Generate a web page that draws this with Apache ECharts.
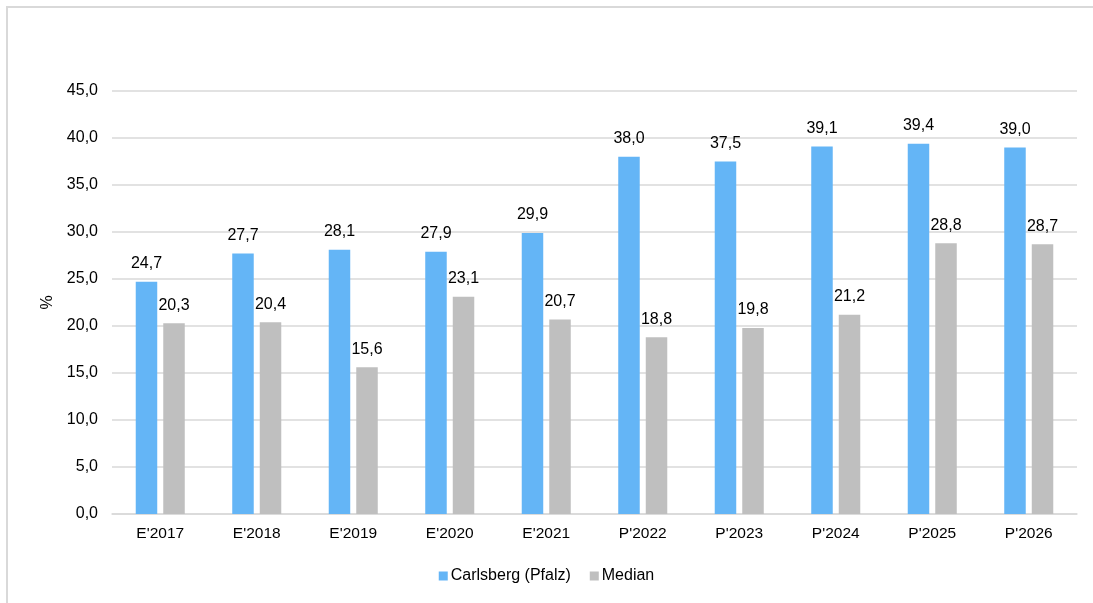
<!DOCTYPE html>
<html>
<head>
<meta charset="utf-8">
<script src="https://cdn.jsdelivr.net/npm/echarts@6/dist/echarts.min.js"></script>
<style>
html,body{margin:0;padding:0;background:#fff;}
#chart{width:1093px;height:603px;}
</style>
</head>
<body>
<div id="chart"></div>
<script>
var categories = ["E'2017","E'2018","E'2019","E'2020","E'2021","P'2022","P'2023","P'2024","P'2025","P'2026"];
var carlsberg = [24.7, 27.7, 28.1, 27.9, 29.9, 38.0, 37.5, 39.1, 39.4, 39.0];
var median = [20.3, 20.4, 15.6, 23.1, 20.7, 18.8, 19.8, 21.2, 28.8, 28.7];
var seriesNames = ["Carlsberg (Pfalz)", "Median"];
var yMin = 0, yMax = 45, yInterval = 5;

function fmt(v){ return Number(v).toFixed(1).replace('.', ','); }

var chart = echarts.init(document.getElementById('chart'));
var font = 'Liberation Sans, Arial, sans-serif';
var labelCfg = {
  show: true, position: 'top', distance: 10,
  color: '#000', fontSize: 16, fontFamily: font,
  formatter: function(p){ return fmt(p.value); }
};
chart.setOption({
  backgroundColor: '#fff',
  animation: false,
  graphic: [{
    type: 'rect',
    shape: { x: 7, y: 7, width: 1200, height: 700 },
    style: { fill: 'none', stroke: '#d9d9d9', lineWidth: 2 },
    silent: true
  }],
  grid: { left: 112, right: 16, top: 91, bottom: 89, containLabel: false },
  legend: {
    data: seriesNames,
    bottom: 14,
    left: 'center',
    icon: 'rect',
    itemWidth: 9, itemHeight: 9, itemGap: 19,
    textStyle: { fontSize: 16, fontFamily: font, color: '#000', padding: [0,0,0,-2] }
  },
  xAxis: {
    type: 'category',
    data: categories,
    axisLine: { show: true, lineStyle: { color: '#d9d9d9', width: 1.5 } },
    axisTick: { show: false },
    axisLabel: { color: '#000', fontSize: 15.5, fontFamily: font, margin: 12 }
  },
  yAxis: {
    type: 'value',
    min: yMin, max: yMax, interval: yInterval,
    name: '%',
    nameLocation: 'middle',
    nameRotate: 90,
    nameGap: 53,
    nameTextStyle: { color: '#000', fontSize: 16, fontFamily: font },
    axisLine: { show: false },
    axisTick: { show: false },
    splitLine: { lineStyle: { color: '#d9d9d9', width: 1.5 } },
    axisLabel: { color: '#000', fontSize: 16, fontFamily: font, margin: 14,
      formatter: function(v){ return fmt(v); } }
  },
  series: [
    { name: seriesNames[0], type: 'bar', data: carlsberg, barWidth: 21.5, barGap: '28%',
      itemStyle: { color: '#64b5f6' }, label: labelCfg },
    { name: seriesNames[1], type: 'bar', data: median, barWidth: 21.5,
      itemStyle: { color: '#bfbfbf' }, label: labelCfg }
  ]
});
</script>
</body>
</html>
